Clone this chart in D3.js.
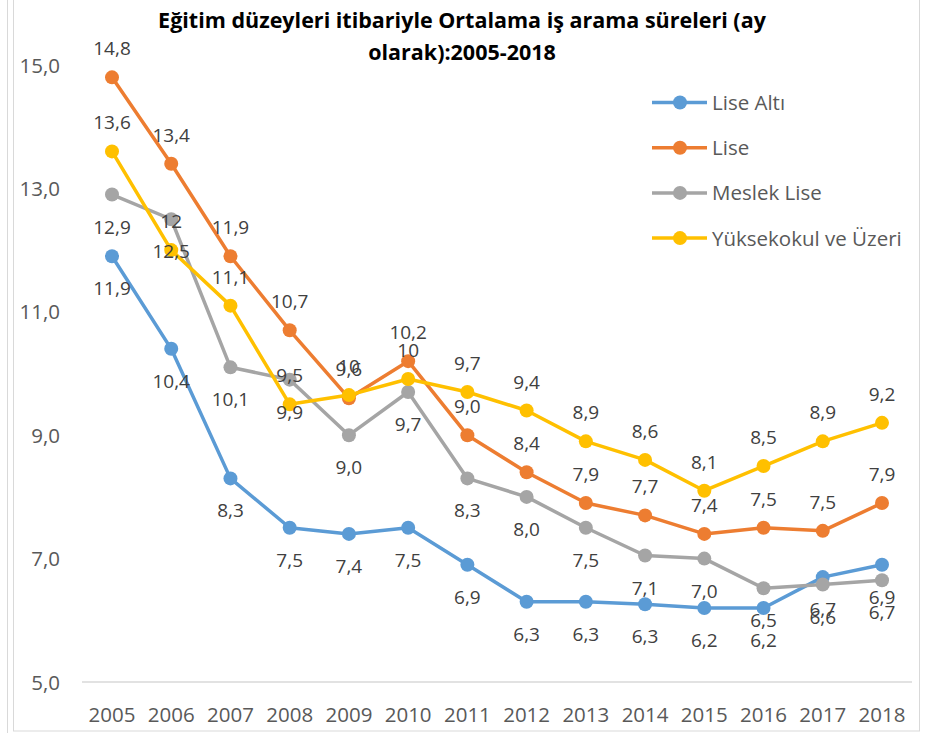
<!DOCTYPE html>
<html>
<head>
<meta charset="utf-8">
<title>Ortalama iş arama süreleri</title>
<script src="https://cdn.jsdelivr.net/npm/d3@7/dist/d3.min.js"></script>
<style>
  body { margin: 0; background: #fff; }
  text { font-family: "Open Sans", "Noto Sans", sans-serif; }
</style>
</head>
<body>
<script>
// years on the x axis
var years = [2005, 2006, 2007, 2008, 2009, 2010, 2011, 2012, 2013, 2014, 2015, 2016, 2017, 2018];

// series values (months)
var liseAlti = [11.9, 10.4, 8.3, 7.5, 7.4, 7.5, 6.9, 6.3, 6.3, 6.26, 6.2, 6.2, 6.7, 6.9];
var lise     = [14.8, 13.4, 11.9, 10.7, 9.6, 10.2, 9.0, 8.4, 7.9, 7.7, 7.4, 7.5, 7.45, 7.9];
var meslek   = [12.9, 12.5, 10.1, 9.9, 9.0, 9.7, 8.3, 8.0, 7.5, 7.05, 7.0, 6.52, 6.58, 6.65];
var yuksek   = [13.6, 12.0, 11.1, 9.5, 9.65, 9.91, 9.7, 9.4, 8.9, 8.6, 8.1, 8.5, 8.9, 9.2];

// data labels as shown in the chart
var liseAltiLbl = ["11,9","10,4","8,3","7,5","7,4","7,5","6,9","6,3","6,3","6,3","6,2","6,2","6,7","6,9"];
var liseLbl     = ["14,8","13,4","11,9","10,7","9,6","10,2","9,0","8,4","7,9","7,7","7,4","7,5","7,5","7,9"];
var meslekLbl   = ["12,9","12,5","10,1","9,9","9,0","9,7","8,3","8,0","7,5","7,1","7,0","6,5","6,6","6,7"];
var yuksekLbl   = ["13,6","12","11,1","9,5","10","10","9,7","9,4","8,9","8,6","8,1","8,5","8,9","9,2"];

var yTicks = [5, 7, 9, 11, 13, 15];

var series = [
  { name: "Lise Altı", values: liseAlti, labels: liseAltiLbl, color: "#5B9BD5", above: false },
  { name: "Lise", values: lise, labels: liseLbl, color: "#ED7D31", above: true },
  { name: "Meslek Lise", values: meslek, labels: meslekLbl, color: "#A5A5A5", above: false },
  { name: "Yüksekokul ve Üzeri", values: yuksek, labels: yuksekLbl, color: "#FFC000", above: true }
];

var W = 925, H = 733;
var svg = d3.select("body").append("svg").attr("width", W).attr("height", H);

// chart area frame
svg.append("line").attr("x1", 7.5).attr("x2", 7.5).attr("y1", 0).attr("y2", H)
  .attr("stroke", "#d9d9d9");
svg.append("rect").attr("x", 13.5).attr("y", -2).attr("width", 906).attr("height", 733)
  .attr("fill", "#fff").attr("stroke", "#d9d9d9");

var x = d3.scalePoint().domain(years).range([112, 882]);
var y = d3.scaleLinear().domain([5, 15]).range([682, 65]);

// baseline
svg.append("line").attr("x1", 82).attr("x2", 912).attr("y1", y(5)).attr("y2", y(5))
  .attr("stroke", "#d9d9d9").attr("stroke-width", 1.5);

// y axis labels
svg.selectAll(".ytick").data(yTicks).enter().append("text")
  .attr("x", 60).attr("y", function(d) { return y(d) + 7.5; })
  .attr("text-anchor", "end").attr("font-size", 20.5).attr("fill", "#595959")
  .text(function(d) { return d3.format(".1f")(d).replace(".", ","); });

// x axis labels
svg.selectAll(".xtick").data(years).enter().append("text")
  .attr("x", function(d) { return x(d); }).attr("y", 722)
  .attr("text-anchor", "middle").attr("font-size", 20.5).attr("fill", "#595959")
  .text(function(d) { return d; });

var line = d3.line()
  .x(function(d, i) { return x(years[i]); })
  .y(function(d) { return y(d); });

series.forEach(function(s) {
  svg.append("path").datum(s.values).attr("d", line)
    .attr("fill", "none").attr("stroke", s.color).attr("stroke-width", 3.5)
    .attr("stroke-linejoin", "round");
  svg.selectAll(null).data(s.values).enter().append("circle")
    .attr("cx", function(d, i) { return x(years[i]); })
    .attr("cy", function(d) { return y(d); })
    .attr("r", 7).attr("fill", s.color);
});

series.forEach(function(s) {
  svg.selectAll(null).data(s.values).enter().append("text")
    .attr("x", function(d, i) { return x(years[i]); })
    .attr("y", function(d) { return y(d) + (s.above ? -22 : 39); })
    .attr("text-anchor", "middle").attr("font-size", 19).attr("fill", "#404040")
    .text(function(d, i) { return s.labels[i]; });
});

// title
var title = svg.append("text").attr("text-anchor", "middle").attr("font-size", 21.5)
  .attr("font-weight", "bold").attr("fill", "#000");
title.append("tspan").attr("x", 462).attr("y", 28).text("Eğitim düzeyleri itibariyle Ortalama iş arama süreleri (ay");
title.append("tspan").attr("x", 462).attr("y", 60).text("olarak):2005-2018");

// legend
var leg = svg.selectAll(".leg").data(series).enter().append("g")
  .attr("transform", function(d, i) { return "translate(652," + (102.5 + i * 45.2) + ")"; });
leg.append("line").attr("x1", 0).attr("x2", 55).attr("stroke", function(d) { return d.color; })
  .attr("stroke-width", 3.5);
leg.append("circle").attr("cx", 28).attr("r", 7).attr("fill", function(d) { return d.color; });
leg.append("text").attr("x", 60).attr("y", 7.5).attr("font-size", 20.5).attr("fill", "#595959")
  .text(function(d) { return d.name; });
</script>
</body>
</html>
